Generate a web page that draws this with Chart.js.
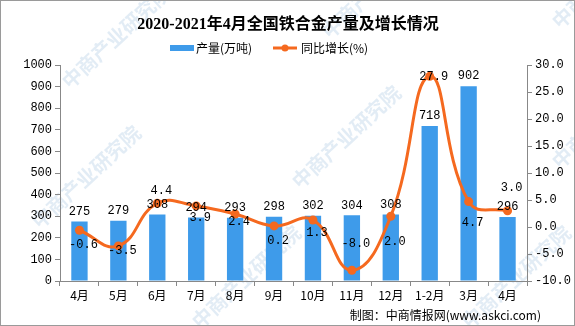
<!DOCTYPE html>
<html><head><meta charset="utf-8">
<script src="https://cdn.jsdelivr.net/npm/chart.js@4/dist/chart.umd.min.js"></script>
<style>html,body{margin:0;padding:0;background:#fff;}canvas{display:block;}</style>
</head><body>
<canvas id="c" width="575" height="326"></canvas>
<script>
const categories = ['4月','5月','6月','7月','8月','9月','10月','11月','12月','1-2月','3月','4月'];
const outputValues = [275, 279, 308, 294, 293, 298, 302, 304, 308, 718, 902, 296];
const growthValues = [-0.6, -3.5, 4.4, 3.9, 2.4, 0.2, 1.3, -8.0, 2.0, 27.9, 4.7, 3.0];
const leftTicks = [0,100,200,300,400,500,600,700,800,900,1000];
const rightTicks = [-10,-5,0,5,10,15,20,25,30];
// vertical nudge of growth labels relative to their points (label placement style)
const growthLabelNudge = [15, 5, -12, 12, 8, 15, 13, -26, 26, 0, 21, -23];

const BLUE = '#3E9BEA';
const ORANGE = '#F5691F';
const NUMFONT = '"Liberation Mono", monospace';
const CJK = '"Noto Sans CJK SC", sans-serif';

const decor = {
  id: 'decor',
  beforeDraw(chart) {
    const ctx = chart.ctx;
    ctx.save();
    ctx.fillStyle = '#fff';
    ctx.fillRect(0, 0, chart.width, chart.height);
    // faint watermarks
    ctx.fillStyle = 'rgba(180,205,228,0.38)';
    ctx.font = 'bold 20px ' + CJK;
    const spots = [[70,90],[330,40],[560,30],[40,230],[300,190],[560,170],[200,330],[470,330]];
    for (const [x,y] of spots) {
      ctx.save(); ctx.translate(x,y); ctx.rotate(-Math.PI/4.2);
      ctx.fillText('中商产业研究院', 0, 0);
      ctx.restore();
    }
    ctx.restore();
  },
  afterDraw(chart) {
    const ctx = chart.ctx;
    ctx.save();
    // title
    ctx.fillStyle = '#000';
    ctx.textAlign = 'center'; ctx.textBaseline = 'middle';
    ctx.font = 'bold 16px "Liberation Serif", ' + CJK;
    ctx.fillText('2020-2021年4月全国铁合金产量及增长情况', 288, 25);
    // legend
    ctx.textAlign = 'left';
    ctx.font = '12px ' + CJK;
    ctx.fillStyle = BLUE;
    ctx.fillRect(170, 45, 24, 6);
    ctx.fillStyle = '#000';
    ctx.fillText('产量(万吨)', 196, 48);
    ctx.strokeStyle = ORANGE; ctx.lineWidth = 3;
    ctx.beginPath(); ctx.moveTo(273, 48); ctx.lineTo(297, 48); ctx.stroke();
    ctx.fillStyle = ORANGE;
    ctx.beginPath(); ctx.arc(285, 48, 3.5, 0, Math.PI*2); ctx.fill();
    ctx.fillStyle = '#000';
    ctx.fillText('同比增长(%)', 301, 48);
    // data labels
    ctx.textAlign = 'center'; ctx.textBaseline = 'middle';
    ctx.font = '12px ' + NUMFONT;
    const barMeta = chart.getDatasetMeta(0);
    barMeta.data.forEach((el, i) => {
      ctx.fillText(String(outputValues[i]), el.x, el.y - 10);
    });
    const lineMeta = chart.getDatasetMeta(1);
    lineMeta.data.forEach((el, i) => {
      ctx.fillText(growthValues[i].toFixed(1), el.x + 4, el.y + growthLabelNudge[i]);
    });
    // footer
    ctx.textAlign = 'right';
    ctx.font = '12px ' + CJK;
    ctx.fillText('制图：中商情报网(www.askci.com)', 541, 315);
    // border
    ctx.strokeStyle = '#9a9a9a'; ctx.lineWidth = 1;
    ctx.strokeRect(0.5, 0.5, chart.width - 1, chart.height - 1);
    ctx.restore();
  }
};

new Chart(document.getElementById('c'), {
  type: 'bar',
  data: {
    labels: categories,
    datasets: [
      { type: 'bar', label: '产量(万吨)', data: outputValues, yAxisID: 'y',
        backgroundColor: BLUE, barPercentage: 0.42, categoryPercentage: 1, order: 2 },
      { type: 'line', label: '同比增长(%)', data: growthValues, yAxisID: 'y1',
        borderColor: ORANGE, backgroundColor: ORANGE, borderWidth: 3,
        pointRadius: 4.5, pointBackgroundColor: ORANGE, pointBorderWidth: 0,
        tension: 0.45, order: 1 }
    ]
  },
  options: {
    responsive: false, devicePixelRatio: 1, animation: false,
    layout: { padding: { top: 65, bottom: 25, left: 0, right: 0 } },
    plugins: { legend: { display: false }, title: { display: false }, tooltip: { enabled: false } },
    scales: {
      x: {
        grid: { offset: true, drawOnChartArea: false, drawTicks: true, tickLength: 5, color: '#888' },
        border: { color: '#888' },
        ticks: { color: '#000', font: { size: 12, family: CJK }, padding: 2, maxRotation: 0, autoSkip: false },
        afterFit(s) { s.height = 20; }
      },
      y: {
        position: 'left', min: 0, max: 1000,
        afterBuildTicks(s) { s.ticks = leftTicks.map(v => ({ value: v })); },
        grid: { drawOnChartArea: false, tickLength: 5, color: '#888' },
        border: { color: '#888' },
        ticks: { color: '#000', font: { size: 12, family: NUMFONT }, padding: 3,
                 callback: v => String(v) },
        afterFit(s) { s.width = 60; }
      },
      y1: {
        position: 'right', min: -10, max: 30,
        afterBuildTicks(s) { s.ticks = rightTicks.map(v => ({ value: v })); },
        grid: { drawOnChartArea: false, tickLength: 5, color: '#888' },
        border: { color: '#888' },
        ticks: { color: '#000', font: { size: 12, family: NUMFONT }, padding: 3,
                 callback: v => Number(v).toFixed(1) },
        afterFit(s) { s.width = 48; }
      }
    }
  },
  plugins: [decor]
});
</script>
</body></html>
